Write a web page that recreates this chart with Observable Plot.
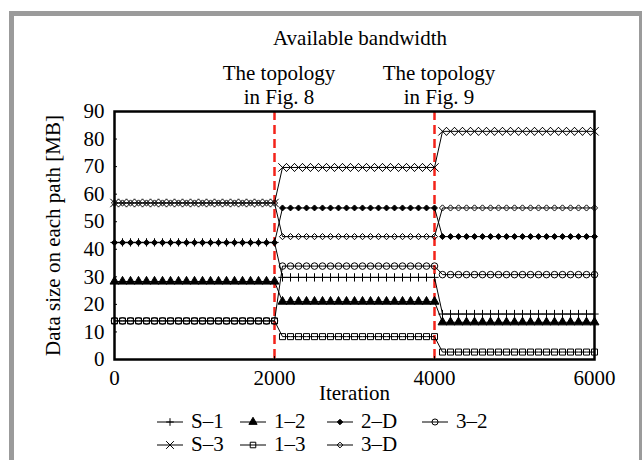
<!DOCTYPE html>
<html>
<head>
<meta charset="utf-8">
<script src="https://cdn.jsdelivr.net/npm/d3@7"></script>
<script src="https://cdn.jsdelivr.net/npm/@observablehq/plot@0.6"></script>
<style>
  html, body { margin: 0; padding: 0; background: white; overflow: hidden; }
  #page { position: relative; width: 642px; height: 460px; overflow: hidden; font-family: "Liberation Serif", "Times New Roman", Times, "DejaVu Serif", serif; }
  #border { position: absolute; left: 9px; top: 11px; width: 635px; height: 520px; box-sizing: border-box; border: 5px solid #9b9b9b; }
  #chart { position: absolute; left: 0; top: 0; }
  #title { position: absolute; left: 260px; width: 200px; top: 28px; text-align: center; font-size: 21px; line-height: 21px; }
  #legend { position: absolute; left: 157px; top: 410px; display: grid; grid-template-columns: 83px 87px 95px auto; grid-auto-rows: 23px; font-size: 21px; line-height: 21px; }
  .item { display: flex; align-items: center; gap: 8px; white-space: nowrap; }
  .item svg { display: block; }
</style>
</head>
<body>
<div id="page">
  <div id="border"></div>
  <div id="chart"></div>
  <div id="title">Available bandwidth</div>
  <div id="legend"></div>
</div>
<script>
// ---- data ----
const seriesNames = ["S–1", "1–2", "2–D", "3–2", "S–3", "1–3", "3–D"];
const phaseEnds = [2000, 4000, 6000];        // iteration at which each topology phase ends
const topologyChanges = [2000, 4000];
const annotations = ["The topology\nin Fig. 8", "The topology\nin Fig. 9"];
const xTicks = [0, 2000, 4000, 6000];
const yTicks = [0, 10, 20, 30, 40, 50, 60, 70, 80, 90];
const sampleStep = 100;                       // markers every 100 iterations

// value of each path in each phase [MB]
const valS1 = [42.5, 29.8, 16.5];
const val12 = [28.3, 21.0, 13.5];
const val2D = [42.4, 55.0, 44.6];
const val32 = [14.0, 33.9, 30.8];
const valS3 = [56.8, 69.7, 82.8];
const val13 = [14.0, 8.3, 2.7];
const val3D = [56.8, 44.6, 55.0];
const seriesValues = [valS1, val12, val2D, val32, valS3, val13, val3D];

// ---- marker styles ----
const symbolNames = ["plus", "triangle", "diamond2", "circle", "times", "square", "diamond2"];
const d3Symbols = [d3.symbolPlus, d3.symbolTriangle, d3.symbolDiamond2, d3.symbolCircle, d3.symbolTimes, d3.symbolSquare, d3.symbolDiamond2];
const symbolR = [2.8, 3.3, 2.7, 3.3, 3.9, 3.4, 2.8];
const symbolFill = ["none", "black", "black", "none", "none", "none", "none"];

const iterations = d3.range(0, phaseEnds[phaseEnds.length - 1] + 1, sampleStep);
const rows = seriesNames.flatMap((name, k) =>
  iterations.map(it => ({ name, it, v: seriesValues[k][phaseEnds.findIndex(e => it <= e)] }))
);

const font = "'Liberation Serif', 'Times New Roman', Times, 'DejaVu Serif', serif";

const chart = Plot.plot({
  width: 642,
  height: 405,
  marginLeft: 114,
  marginRight: 48,
  marginTop: 111,
  marginBottom: 46,
  style: { fontFamily: font, fontSize: "21px", background: "transparent", color: "black", overflow: "visible" },
  x: { domain: [0, 6000], ticks: xTicks, label: null },
  y: { domain: [0, 90], ticks: yTicks, label: null },
  marks: [
    Plot.ruleX(topologyChanges, { stroke: "#f3231a", strokeWidth: 2.5, strokeDasharray: "9,5" }),
    Plot.line(rows, { x: "it", y: "v", z: "name", stroke: "black", strokeWidth: 1 }),
    ...seriesNames.map((name, k) =>
      Plot.dot(rows.filter(d => d.name === name), {
        x: "it", y: "v",
        symbol: symbolNames[k], r: symbolR[k],
        fill: symbolFill[k], stroke: "black", strokeWidth: 1
      })
    ),
    Plot.frame({ stroke: "black", strokeWidth: 2.5 }),
    Plot.axisX({ ticks: xTicks, tickSize: -3, tickPadding: 14, tickFormat: d => String(d), fontSize: 21, label: null }),
    Plot.axisY({ ticks: yTicks, tickSize: -3, tickPadding: 13, tickFormat: d => String(d), fontSize: 21, label: null }),
    Plot.text(topologyChanges, {
      x: d => d, text: (d, i) => annotations[i],
      frameAnchor: "top", lineAnchor: "bottom", dy: -8, dx: 4.5, lineHeight: 1.1,
      fontSize: 21, textAnchor: "middle"
    }),
    Plot.text(["Iteration"], { text: d => d, frameAnchor: "bottom", dy: 34, lineAnchor: "middle", fontSize: 21 }),
    Plot.text(["Data size on each path [MB]"], { text: d => d, frameAnchor: "left", rotate: -90, dx: -61, lineAnchor: "middle", textAnchor: "middle", fontSize: 21 })
  ]
});
document.getElementById("chart").appendChild(chart);

// ---- legend ----
const legend = d3.select("#legend");
seriesNames.forEach((name, k) => {
  const item = legend.append("div").attr("class", "item");
  const svg = item.append("svg").attr("width", 26).attr("height", 14);
  svg.append("line").attr("x1", 0).attr("x2", 26).attr("y1", 7).attr("y2", 7).attr("stroke", "black").attr("stroke-width", 1);
  svg.append("path")
    .attr("transform", "translate(13,7)")
    .attr("d", d3.symbol(d3Symbols[k], Math.PI * symbolR[k] * symbolR[k] * 0.85)())
    .attr("fill", symbolFill[k]).attr("stroke", "black").attr("stroke-width", 1);
  item.append("span").text(name);
});
</script>
</body>
</html>
